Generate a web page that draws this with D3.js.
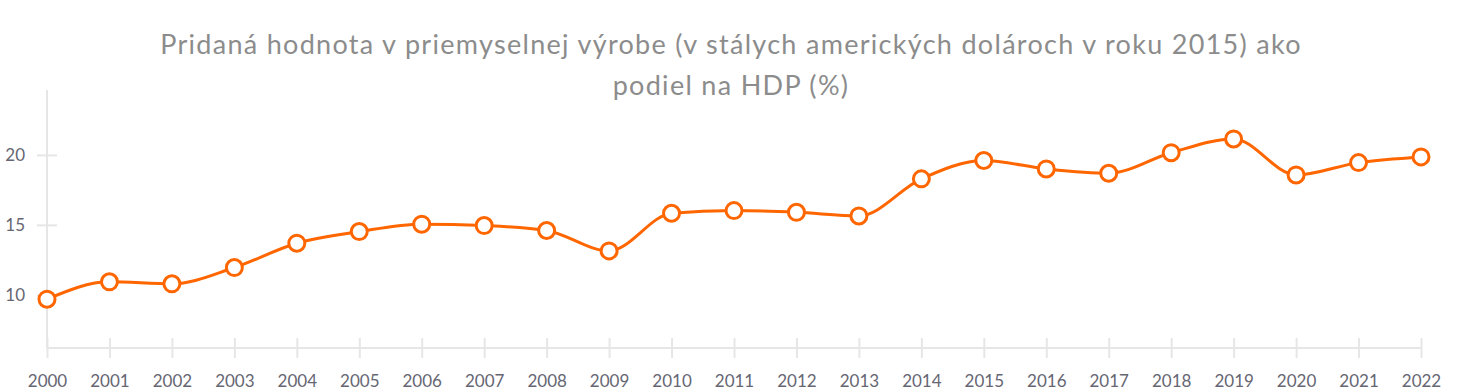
<!DOCTYPE html>
<html>
<head>
  <meta charset="utf-8">
  <title>Pridaná hodnota v priemyselnej výrobe</title>
  <script src="https://d3js.org/d3.v7.min.js"></script>
  <style>
    body { margin: 0; background: #fff; }
    text { font-family: Lato, "Open Sans", sans-serif; }
  </style>
</head>
<body>
  <div id="chart"></div>

<script>
  // data
  const years = ["2000","2001","2002","2003","2004","2005","2006","2007","2008","2009","2010",
                 "2011","2012","2013","2014","2015","2016","2017","2018","2019","2020","2021","2022"];
  const values = [9.69, 10.93, 10.79, 11.95, 13.69, 14.52, 15.05, 14.95, 14.6, 13.14, 15.83,
                  16.02, 15.9, 15.64, 18.29, 19.6, 19.0, 18.69, 20.16, 21.14, 18.57, 19.45, 19.86];
  const yTicks = [10, 15, 20];
  const titleLines = ["Pridaná hodnota v priemyselnej výrobe (v stálych amerických dolároch v roku 2015) ako",
                      "podiel na HDP (%)"];

  const W = 1462, H = 390;
  const margin = {top: 90, right: 41, bottom: 42, left: 47};
  const width = W - margin.left - margin.right,
        height = H - margin.top - margin.bottom;

  const svg = d3.select("#chart").append("svg")
      .attr("width", W)
      .attr("height", H);

  // title
  svg.append("text")
      .attr("x", W / 2)
      .attr("text-anchor", "middle")
      .attr("fill", "#8c8c8c")
      .attr("font-size", 27)
      .attr("letter-spacing", 1.3)
    .selectAll("tspan")
    .data(titleLines)
    .join("tspan")
      .attr("x", W / 2)
      .attr("y", (d, i) => 54 + i * 41)
      .text(d => d);

  const g = svg.append("g")
      .attr("transform", `translate(${margin.left},${margin.top})`);

  const x = d3.scalePoint()
      .domain(years)
      .range([0, width]);

  const y = d3.scaleLinear()
      .domain([6.2, 24.64])
      .range([height, 0]);

  // y axis
  const yAxis = g.append("g")
      .call(d3.axisLeft(y).tickValues(yTicks).tickSize(10).tickPadding(12));
  yAxis.select(".domain").attr("stroke", "#e6e6e6").attr("stroke-width", 2)
      .attr("d", `M0,0V${height}`);
  yAxis.selectAll(".tick line").attr("stroke", "#e6e6e6").attr("stroke-width", 2).attr("x2", 10).attr("x1", -10);
  yAxis.selectAll(".tick text").attr("fill", "#666673").attr("font-size", 17);

  // x axis
  const xAxis = g.append("g")
      .attr("transform", `translate(0,${height})`)
      .call(d3.axisBottom(x).tickSize(10).tickPadding(17));
  xAxis.select(".domain").attr("stroke", "#e6e6e6").attr("stroke-width", 2)
      .attr("d", `M0,0H${width}`);
  xAxis.selectAll(".tick line").attr("stroke", "#e6e6e6").attr("stroke-width", 2).attr("y1", -10).attr("y2", 10);
  xAxis.selectAll(".tick text").attr("fill", "#666673").attr("font-size", 17);

  // line
  const color = "#ff6600";
  g.append("path")
      .datum(values)
      .attr("fill", "none")
      .attr("stroke", color)
      .attr("stroke-width", 3)
      .attr("d", d3.line()
        .x((d, i) => x(years[i]))
        .y(d => y(d))
        .curve(d3.curveMonotoneX));

  // points
  g.selectAll(".dot")
    .data(values)
    .join("circle")
      .attr("class", "dot")
      .attr("cx", (d, i) => x(years[i]))
      .attr("cy", d => y(d))
      .attr("r", 8)
      .attr("fill", "#fff")
      .attr("stroke", color)
      .attr("stroke-width", 3);
</script>
</body>
</html>
